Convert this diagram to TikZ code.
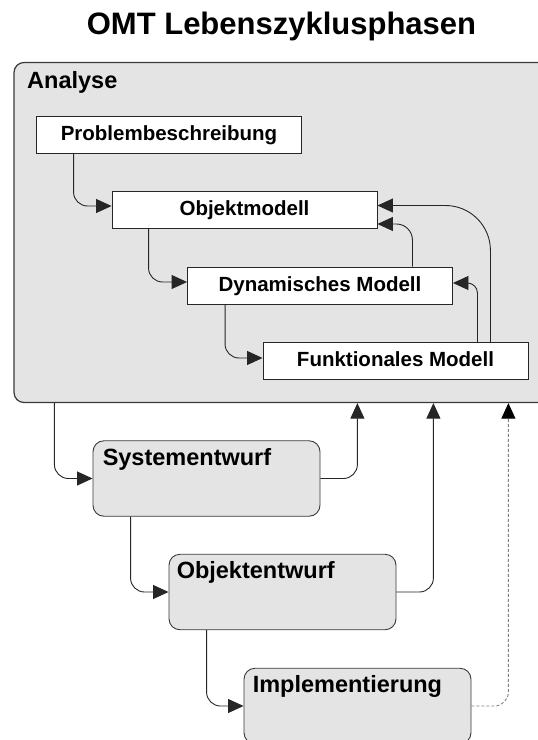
\documentclass[tikz,border=0pt]{standalone}
\usepackage{fontspec}
\setmainfont{Liberation Sans}
\usetikzlibrary{arrows.meta}
\definecolor{panel}{HTML}{E4E4E4}
\definecolor{edge}{HTML}{3A3A3A}
\begin{document}
\begin{tikzpicture}[x=1pt,y=-1pt,
  stage/.style={draw=edge, line width=1.2pt, fill=panel, rounded corners=10pt, inner sep=0pt},
  model/.style={draw=black!85, line width=0.9pt, fill=white, minimum width=265pt,
    minimum height=37pt, inner sep=0pt, font=\fontsize{20.5}{24}\selectfont\bfseries,
    text height=15pt, text depth=3.5pt},
  phase/.style={draw=edge, line width=0.9pt, fill=panel, rounded corners=11pt,
    minimum width=227pt, minimum height=75.5pt, inner sep=0pt},
  phasename/.style={anchor=base west, inner sep=0pt, font=\fontsize{23.5}{28}\selectfont\bfseries},
  flow/.style={draw=black!85, line width=0.9pt, rounded corners=14pt,
    -{Triangle[length=15.5pt,width=14pt]}},
  back/.style={draw=gray, line width=0.9pt, rounded corners=14pt, dash pattern=on 3pt off 2pt,
    -{Triangle[length=15.5pt,width=14pt,color=black]}}
]
\useasboundingbox (0,0) rectangle (538,740);

% title
\node[anchor=base, inner sep=0pt, font=\fontsize{31}{36}\selectfont\bfseries] (title)
  at (281.5,34.5) {OMT Lebenszyklusphasen};

% analysis phase with its three models
\node[stage, minimum width=536pt, minimum height=340pt] (ana) at (282,232.5) {};
\node[phasename] (anal) at (27,88) {Analyse};

\node[model] (pb) at (169,135) {Problembeschreibung};
\node[model] (om) at (244.5,210) {Objektmodell};
\node[model] (dm) at (320,285.5) {Dynamisches Modell};
\node[model] (fm) at (395.5,361) {Funktionales Modell};

\draw[flow] ([xshift=37.5pt]pb.south west) |- ([yshift=4pt]om.west);
\draw[flow] ([xshift=37pt]om.south west) |- ([yshift=3.5pt]dm.west);
\draw[flow] ([xshift=38pt]dm.south west) |- ([yshift=3pt]fm.west);
\draw[flow, rounded corners=10pt] ([xshift=-51pt]fm.north east) |- ([yshift=2.5pt]dm.east);
\draw[flow, rounded corners=16pt] ([xshift=-40.5pt]dm.north east) |- ([yshift=-14pt]om.east);
\draw[flow, rounded corners=45pt] ([xshift=-38pt]fm.north east) |- ([yshift=4.5pt]om.east);

% design and implementation phases
\node[phase] (sys) at (206.5,478.5) {};
\node[phase] (oe) at (282.5,592) {};
\node[phase] (im) at (357.5,706) {};
\node[phasename] (sysl) at ([xshift=10pt,yshift=-25pt]sys.north west) {Systementwurf};
\node[phasename] (oel) at ([xshift=8pt,yshift=-25pt]oe.north west) {Objektentwurf};
\node[phasename] (iml) at ([xshift=9pt,yshift=-25pt]im.north west) {Implementierung};

\draw[flow] ([xshift=41pt]ana.south west) |- (sys.west);
\draw[flow] ([xshift=38pt]sys.south west) |- (oe.west);
\draw[flow] ([xshift=38pt]oe.south west) |- (im.west);
\draw[flow] (sys.east) -| ([xshift=344pt]ana.south west);
\draw[flow] (oe.east) -| ([xshift=420pt]ana.south west);
\draw[back] (im.east) -| ([xshift=495pt]ana.south west);
\end{tikzpicture}
\end{document}
